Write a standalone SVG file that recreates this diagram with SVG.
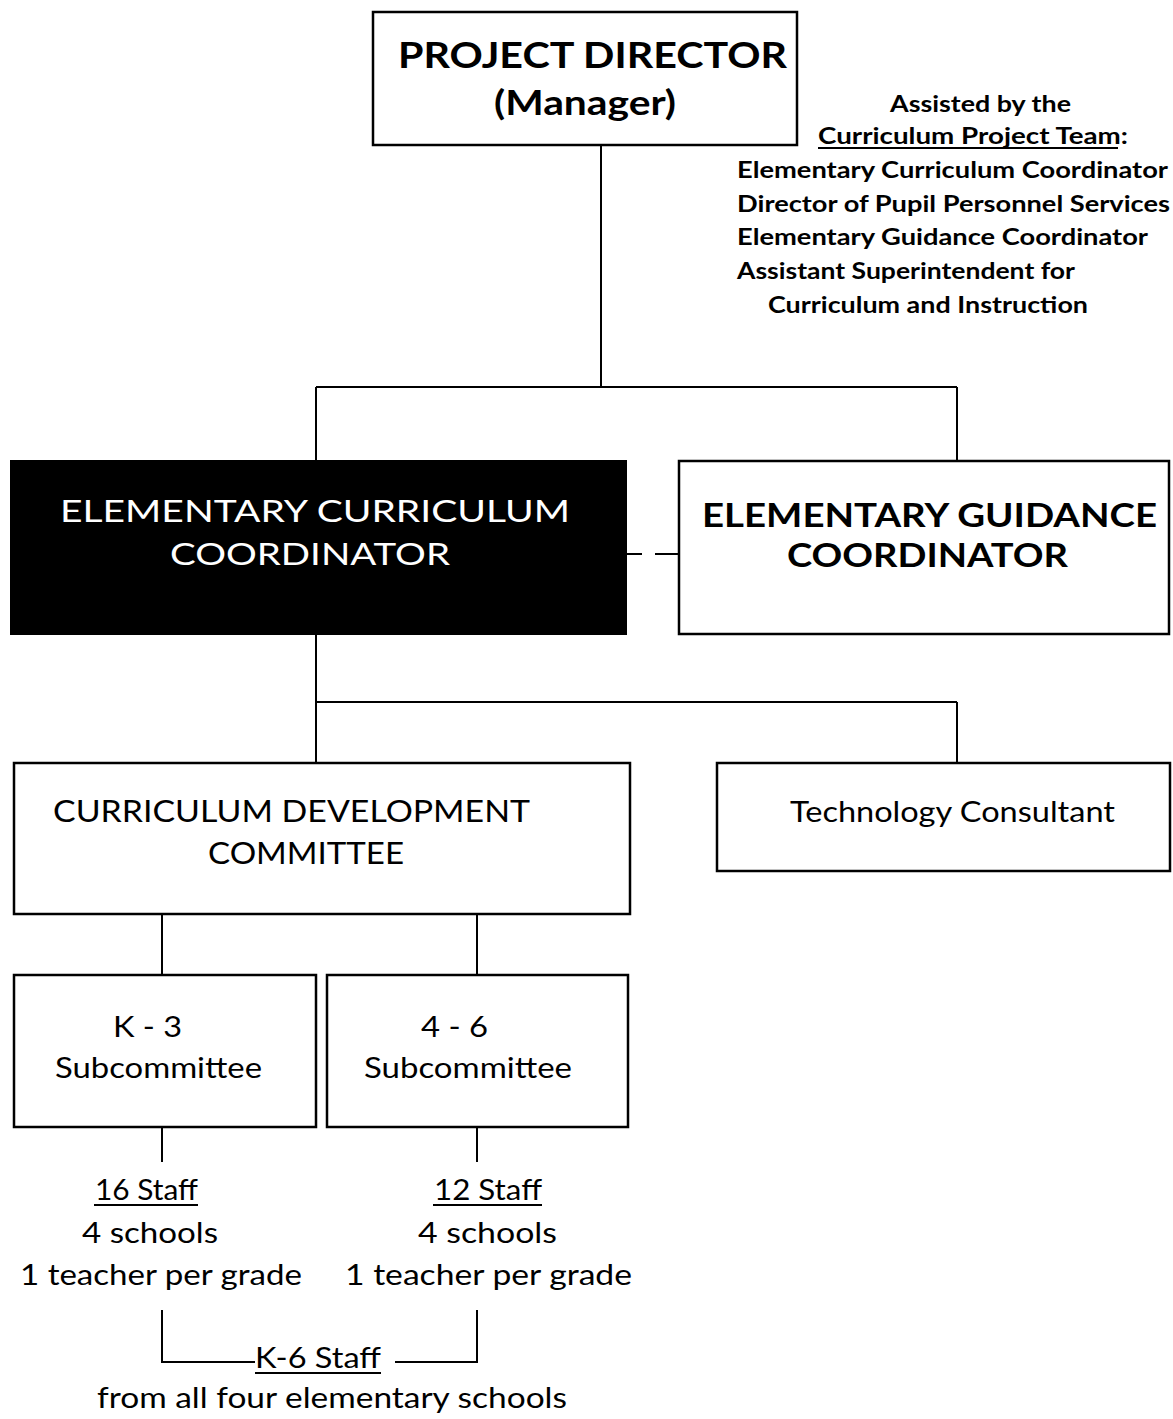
<svg xmlns="http://www.w3.org/2000/svg" width="1173" height="1419" viewBox="0 0 1173 1419">
<style>
.box{fill:#fff;stroke:#000;stroke-width:2.5}
.dark{fill:#000;stroke:#000;stroke-width:2}
.ln{stroke:#000;stroke-width:2;fill:none}
text{font-family:Lato,"Open Sans","Liberation Sans",sans-serif;fill:#000}
.b{font-weight:bold}
.w{fill:#fff}
</style>
<rect width="1173" height="1419" fill="#fff"/>
<g id="connectors">
<path class="ln" d="M601 145V387M316 387H957M316 387V461M957 387V461"/>
<path class="ln" d="M626 554H642M655 554H679"/>
<path class="ln" d="M316 634V702H957M316 702V763M957 702V763"/>
<path class="ln" d="M162 914V975M477 914V975"/>
<path class="ln" d="M162 1127V1162M477 1127V1162"/>
<path class="ln" d="M162 1310V1362H255M395 1362H477V1310"/>
</g>
<g id="project-director">
<rect class="box" x="373" y="12" width="424" height="133"/>
<text class="b" x="398" y="68" font-size="36" textLength="389" lengthAdjust="spacingAndGlyphs">PROJECT DIRECTOR</text>
<text class="b" x="494" y="115" font-size="34" textLength="182" lengthAdjust="spacingAndGlyphs">(Manager)</text>
</g>
<g id="project-team" class="b" font-size="22">
<text class="b" x="890" y="112" textLength="181" lengthAdjust="spacingAndGlyphs">Assisted by the</text>
<text class="b" x="818" y="144" textLength="310" lengthAdjust="spacingAndGlyphs">Curriculum Project Team:</text>
<path class="ln" d="M818 148H1118" stroke-width="1.5"/>
<text class="b" x="737" y="178" textLength="431" lengthAdjust="spacingAndGlyphs">Elementary Curriculum Coordinator</text>
<text class="b" x="737" y="212" textLength="433" lengthAdjust="spacingAndGlyphs">Director of Pupil Personnel Services</text>
<text class="b" x="737" y="245" textLength="411" lengthAdjust="spacingAndGlyphs">Elementary Guidance Coordinator</text>
<text class="b" x="737" y="279" textLength="338" lengthAdjust="spacingAndGlyphs">Assistant Superintendent for</text>
<text class="b" x="768" y="313" textLength="320" lengthAdjust="spacingAndGlyphs">Curriculum and Instruction</text>
</g>
<g id="elementary-curriculum-coordinator">
<rect class="dark" x="11" y="461" width="615" height="173"/>
<text class="w" x="60" y="522" font-size="30" textLength="510" lengthAdjust="spacingAndGlyphs">ELEMENTARY CURRICULUM</text>
<text class="w" x="170" y="565" font-size="30" textLength="280" lengthAdjust="spacingAndGlyphs">COORDINATOR</text>
</g>
<g id="elementary-guidance-coordinator">
<rect class="box" x="679" y="461" width="490" height="173"/>
<text class="b" x="702" y="527" font-size="32" textLength="455" lengthAdjust="spacingAndGlyphs">ELEMENTARY GUIDANCE</text>
<text class="b" x="787" y="567" font-size="32" textLength="281" lengthAdjust="spacingAndGlyphs">COORDINATOR</text>
</g>
<g id="curriculum-development-committee">
<rect class="box" x="14" y="763" width="616" height="151"/>
<text x="53" y="822" font-size="30" textLength="477" lengthAdjust="spacingAndGlyphs">CURRICULUM DEVELOPMENT</text>
<text x="208" y="864" font-size="30" textLength="196" lengthAdjust="spacingAndGlyphs">COMMITTEE</text>
</g>
<g id="technology-consultant">
<rect class="box" x="717" y="763" width="453" height="108"/>
<text x="790" y="822" font-size="29" textLength="325" lengthAdjust="spacingAndGlyphs">Technology Consultant</text>
</g>
<g id="k3-subcommittee">
<rect class="box" x="14" y="975" width="302" height="152"/>
<text x="113" y="1037" font-size="28" textLength="69" lengthAdjust="spacingAndGlyphs">K - 3</text>
<text x="55" y="1078" font-size="28" textLength="207" lengthAdjust="spacingAndGlyphs">Subcommittee</text>
</g>
<g id="46-subcommittee">
<rect class="box" x="327" y="975" width="301" height="152"/>
<text x="421" y="1037" font-size="28" textLength="67" lengthAdjust="spacingAndGlyphs">4 - 6</text>
<text x="364" y="1078" font-size="28" textLength="208" lengthAdjust="spacingAndGlyphs">Subcommittee</text>
</g>
<g id="k3-staff" font-size="28">
<text x="95" y="1200" textLength="103" lengthAdjust="spacingAndGlyphs">16 Staff</text>
<path class="ln" d="M94 1205H198" stroke-width="1.5"/>
<text x="82" y="1243" textLength="136" lengthAdjust="spacingAndGlyphs">4 schools</text>
<text x="20" y="1285" textLength="282" lengthAdjust="spacingAndGlyphs">1 teacher per grade</text>
</g>
<g id="46-staff" font-size="28">
<text x="434" y="1200" textLength="108" lengthAdjust="spacingAndGlyphs">12 Staff</text>
<path class="ln" d="M433 1205H542" stroke-width="1.5"/>
<text x="418" y="1243" textLength="139" lengthAdjust="spacingAndGlyphs">4 schools</text>
<text x="345" y="1285" textLength="287" lengthAdjust="spacingAndGlyphs">1 teacher per grade</text>
</g>
<g id="k6-staff" font-size="28">
<text x="255" y="1368" textLength="126" lengthAdjust="spacingAndGlyphs">K-6 Staff</text>
<path class="ln" d="M255 1373H381" stroke-width="1.5"/>
<text x="97" y="1408" textLength="470" lengthAdjust="spacingAndGlyphs">from all four elementary schools</text>
</g>
</svg>
